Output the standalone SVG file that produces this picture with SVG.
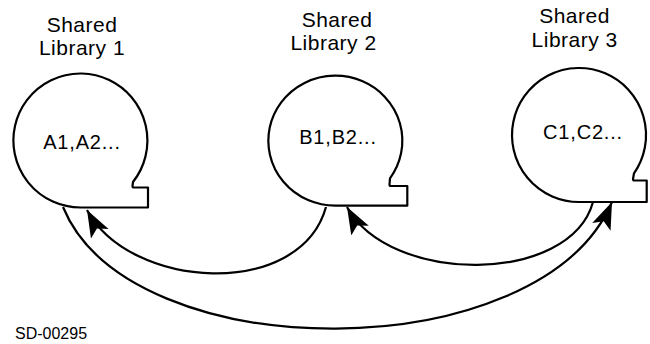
<svg xmlns="http://www.w3.org/2000/svg" width="650" height="344" viewBox="0 0 650 344">
<style>
.shape{fill:none;stroke:#000;stroke-width:2.2;stroke-linejoin:round}
.conn{fill:none;stroke:#000;stroke-width:2.2}
.lbl{font-family:"Liberation Sans",Arial,sans-serif;font-size:21px;letter-spacing:0.5px;text-anchor:middle;fill:#000}
.in{font-family:"Liberation Sans",Arial,sans-serif;font-size:20px;letter-spacing:0.8px;text-anchor:middle;fill:#000}
.id{font-family:"Liberation Sans",Arial,sans-serif;font-size:16px;fill:#000}
</style>
<defs>
<marker id="ah" markerUnits="userSpaceOnUse" markerWidth="30" markerHeight="22" refX="27" refY="10" orient="auto" viewBox="0 0 30 22">
<path d="M0,0 L27,10 L0,20 L6,10 Z" fill="#000"/>
</marker>
</defs>
<rect width="650" height="344" fill="#fff"/>
<g id="lib1">
<path class="shape" d="M80.5,207.5 A67,67 0 1 1 133,182 L132.5,186 Q132.5,187.5 134,187.5 L148,187.5 L148,207.5 Z"/>
<text class="lbl" x="82" y="31.7">Shared</text>
<text class="lbl" x="82" y="55">Library 1</text>
<text class="in" x="82" y="149">A1,A2...</text>
</g>
<g id="lib2">
<path class="shape" d="M335.5,205.7 A67,65 0 1 1 390,178.3 L389.5,184.5 Q389.5,186 391,186 L407.3,186 L407.3,205.7 Z"/>
<text class="lbl" x="337" y="26.7">Shared</text>
<text class="lbl" x="333.5" y="50">Library 2</text>
<text class="in" x="338" y="144">B1,B2...</text>
</g>
<g id="lib3">
<path class="shape" d="M579.7,202 A67,67 0 1 1 634,173.3 L633,179 Q633,180.5 634.5,180.5 L646.7,180.5 L646.7,202 Z"/>
<text class="lbl" x="574.5" y="23.3">Shared</text>
<text class="lbl" x="574.7" y="46.7">Library 3</text>
<text class="in" x="583" y="139">C1,C2...</text>
</g>
<g id="connectors">
<path class="conn" d="M326,207 C300,300 130,290 87,210" marker-end="url(#ah)"/>
<path class="conn" d="M593,202 C570,285 390,285 347,207" marker-end="url(#ah)"/>
<path class="conn" d="M63,207 C130,370 540,370 612,202" marker-end="url(#ah)"/>
</g>
<text class="id" x="15" y="339">SD-00295</text>
</svg>
